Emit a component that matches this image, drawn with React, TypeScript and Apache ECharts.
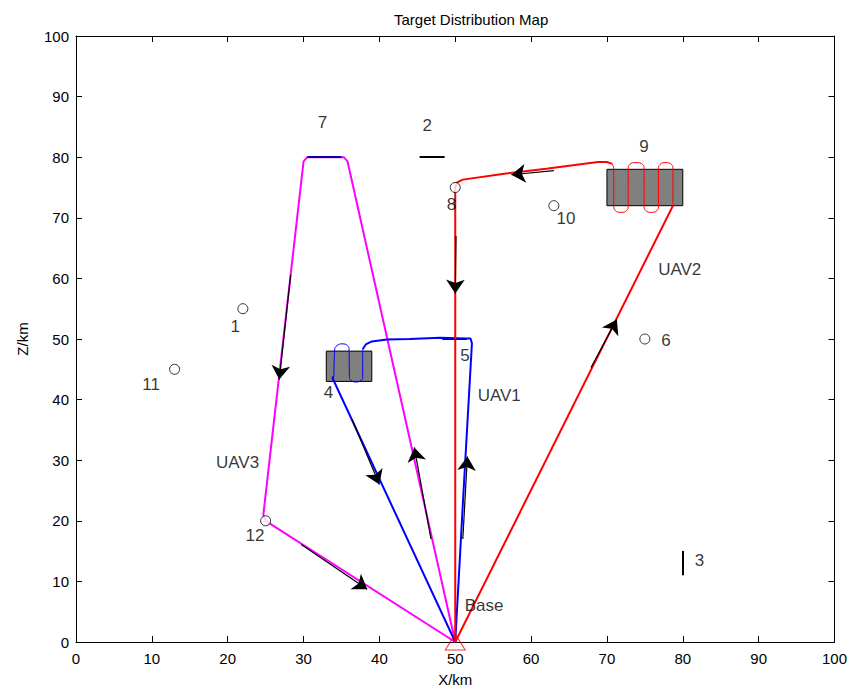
import React, { useEffect, useRef } from "react";
import * as echarts from "echarts";

// ---- Targets -------------------------------------------------------------
// Point targets (circles)
const pointIds = ["1", "6", "8", "10", "11", "12"];
const pointX = [22, 75, 50, 63, 13, 25];
const pointZ = [55, 50, 75, 72, 45, 20];

// Area targets (grey boxes): [xMin, xMax, zMin, zMax]
const areaIds = ["4", "9"];
const areaBoxes: number[][] = [
  [33, 39, 43, 48],
  [70, 80, 72, 78],
];

// Line targets: [x1, z1, x2, z2]
const lineIds = ["2", "3", "5", "7"];
const lineTargets: number[][] = [
  [45.3, 80, 48.6, 80],
  [80, 11, 80, 15],
  [48.3, 50, 51.5, 50],
  [30.5, 80, 35, 80],
];

// Target number labels and their anchor points [x, z]
const targetLabelText = ["1", "2", "3", "4", "5", "6", "7", "8", "9", "10", "11", "12"];
const targetLabelAt: number[][] = [
  [21, 52.1], [46.3, 85.3], [82.2, 13.5], [33.3, 41.2], [51.3, 47.3], [77.8, 49.8],
  [32.5, 85.8], [49.5, 72.2], [74.9, 81.7], [64.6, 69.9], [9.9, 42.5], [23.6, 17.5],
];

// UAV names and base label
const uavLabelText = ["UAV1", "UAV2", "UAV3", "Base"];
const uavLabelAt: number[][] = [
  [55.8, 40.7], [79.6, 61.4], [21.3, 29.7], [53.8, 6.0],
];

const base: number[] = [50, 0];

// ---- UAV routes ---------------------------------------------------------
const uav1Route: number[][] = [
  [50, 0], [51.1, 25], [52.2, 49.3], [52.0, 50.1], [51.5, 50.1], [48, 50.2],
  [44, 50.0], [41, 49.9], [39, 49.6], [38.2, 49.1], [37.8, 48.3],
];
const uav1Sweep: number[][] = [
  [37.8, 48.3], [37.8, 43.8], [37.6, 43.2], [36.9, 42.9], [36.25, 43.2], [36.05, 43.8],
  [36.0, 48.2], [35.8, 48.9], [35.1, 49.2], [34.4, 48.9], [34.1, 48.2], [34.0, 43.8],
];
const uav1Return: number[][] = [[34.0, 43.8], [33.8, 43.6], [50, 0]];

const uav2Route: number[][] = [[50, 0], [78.7, 72.0]];
const uav2Sweep: number[][] = [
  [78.7, 72.0], [78.7, 78.0], [78.5, 78.8], [77.75, 79.1], [77.0, 78.8], [76.8, 78.0],
  [76.8, 72.0], [76.6, 71.2], [75.85, 70.9], [75.1, 71.2], [74.9, 72.0],
  [74.9, 78.0], [74.7, 78.8], [73.85, 79.1], [73.0, 78.8], [72.8, 78.0],
  [72.8, 72.0], [72.6, 71.2], [71.85, 70.9], [71.1, 71.2], [70.9, 72.0],
  [70.9, 78.0], [70.7, 78.9],
];
const uav2Return: number[][] = [
  [70.7, 78.9], [70.0, 79.2], [68.8, 79.2], [62, 78.1], [56, 77.2], [51, 76.3],
  [50.2, 75.8], [50, 75], [50, 0],
];

const uav3Route: number[][] = [
  [50, 0], [35.8, 79.3], [35.3, 80], [30.5, 80], [30.0, 79.3], [24.7, 21.0], [25, 20], [50, 0],
];

// Direction arrows along the routes: [x1, z1, x2, z2]
const arrows: number[][] = [
  [28.3, 60.6, 26.8, 43.3],
  [29.7, 16.1, 38.4, 8.7],
  [46.8, 17, 44.6, 32.1],
  [36.4, 36.7, 40.0, 26.0],
  [51.0, 17, 51.6, 30.6],
  [67.9, 45.3, 71.3, 53.2],
  [63.0, 77.8, 57.4, 77.1],
  [50.1, 67.0, 50.0, 57.5],
];

const FONT = "Liberation Sans, Arial, sans-serif";

function routeSeries(data: number[][], color: string, width: number, smooth: number | boolean = false) {
  return {
    type: "line",
    data,
    showSymbol: false,
    symbol: "none",
    smooth,
    lineStyle: { color, width },
    z: 3,
    silent: true,
  };
}

function textSeries(texts: string[], at: number[][]) {
  return {
    type: "scatter",
    symbolSize: 0.1,
    data: texts.map((t, i) => ({ name: t, value: at[i] })),
    label: {
      show: true,
      position: "inside",
      formatter: (p: any) => p.name,
      color: "#000",
      textBorderWidth: 0,
      fontSize: 17,
      fontFamily: FONT,
    },
    itemStyle: { color: "transparent" },
    z: 6,
    silent: true,
  };
}

export default function App() {
  const ref = useRef<HTMLDivElement>(null);

  useEffect(() => {
    if (!ref.current) return;
    const chart = echarts.init(ref.current, null, { renderer: "svg" });

    const axisCommon = {
      type: "value",
      min: 0,
      max: 100,
      interval: 10,
      splitLine: { show: false },
      axisLine: { show: true, onZero: false, lineStyle: { color: "#000", width: 1 } },
      axisTick: { show: true, inside: true, length: 6, lineStyle: { color: "#000" } },
    };

    chart.setOption({
      animation: false,
      backgroundColor: "#fff",
      title: {
        text: "Target Distribution Map",
        left: 389,
        top: 7,
        textStyle: { fontSize: 15, fontWeight: "normal", color: "#000", fontFamily: FONT },
      },
      grid: { left: 76, right: 14, top: 36, bottom: 49, containLabel: false },
      xAxis: [
        {
          ...axisCommon,
          position: "bottom",
          name: "X/km",
          nameLocation: "middle",
          nameGap: 30,
          nameTextStyle: { fontSize: 15, color: "#000", fontFamily: FONT },
          axisLabel: { color: "#000", fontSize: 15, margin: 9, fontFamily: FONT },
        },
        { ...axisCommon, position: "top", axisLabel: { show: false } },
      ],
      yAxis: [
        {
          ...axisCommon,
          position: "left",
          name: "Z/km",
          nameLocation: "middle",
          nameGap: 46,
          nameTextStyle: { fontSize: 15, color: "#000", fontFamily: FONT },
          axisLabel: { color: "#000", fontSize: 15, margin: 7, fontFamily: FONT },
        },
        { ...axisCommon, position: "right", axisLabel: { show: false } },
      ],
      series: [
        // area targets
        {
          type: "custom",
          name: areaIds.join(","),
          data: areaBoxes,
          encode: { x: [0, 1], y: [2, 3] },
          renderItem: (_params: any, api: any) => {
            const p0 = api.coord([api.value(0), api.value(3)]);
            const p1 = api.coord([api.value(1), api.value(2)]);
            return {
              type: "rect",
              shape: { x: p0[0], y: p0[1], width: p1[0] - p0[0], height: p1[1] - p0[1] },
              style: { fill: "#808080", stroke: "#000", lineWidth: 1 },
            };
          },
          z: 2,
          silent: true,
        },
        // routes
        routeSeries(uav3Route, "#ff00ff", 2),
        routeSeries(uav1Route, "#0000ff", 2),
        routeSeries(uav1Sweep, "#0000ff", 1, 0.5),
        routeSeries(uav1Return, "#0000ff", 2),
        routeSeries(uav2Route, "#ff0000", 2),
        routeSeries(uav2Sweep, "#ff0000", 1, 0.5),
        routeSeries(uav2Return, "#ff0000", 2),
        // line targets
        {
          type: "lines",
          coordinateSystem: "cartesian2d",
          data: lineTargets.map((l, i) => ({
            name: lineIds[i],
            coords: [[l[0], l[1]], [l[2], l[3]]],
            lineStyle: {
              color: lineIds[i] === "7" ? "#0000aa" : "#000",
              width: lineIds[i] === "5" ? 1 : 2,
              opacity: 1,
            },
          })),
          lineStyle: { opacity: 1 },
          symbol: ["none", "none"],
          z: 4,
          silent: true,
        },
        // direction arrows
        {
          type: "lines",
          coordinateSystem: "cartesian2d",
          data: arrows.map((a) => ({ coords: [[a[0], a[1]], [a[2], a[3]]] })),
          symbol: ["none", "arrow"],
          symbolSize: 14,
          lineStyle: { color: "#000", width: 1.2, opacity: 1 },
          z: 5,
          silent: true,
        },
        // point targets
        {
          type: "scatter",
          data: pointIds.map((id, i) => ({ name: id, value: [pointX[i], pointZ[i]] })),
          symbol: "circle",
          symbolSize: 10,
          itemStyle: { color: "#fff", borderColor: "#000", borderWidth: 1 },
          z: 5,
          silent: true,
        },
        // base
        {
          type: "scatter",
          data: [base],
          symbol: "triangle",
          symbolSize: [20, 16],
          clip: false,
          itemStyle: { color: "rgba(0,0,0,0)", borderColor: "#ff0000", borderWidth: 1 },
          z: 5,
          silent: true,
        },
        textSeries(targetLabelText, targetLabelAt),
        textSeries(uavLabelText, uavLabelAt),
      ],
    });

    return () => chart.dispose();
  }, []);

  return (
    <div
      ref={ref}
      style={{ position: "fixed", left: 0, top: 0, width: 850, height: 692, background: "#fff" }}
    />
  );
}
